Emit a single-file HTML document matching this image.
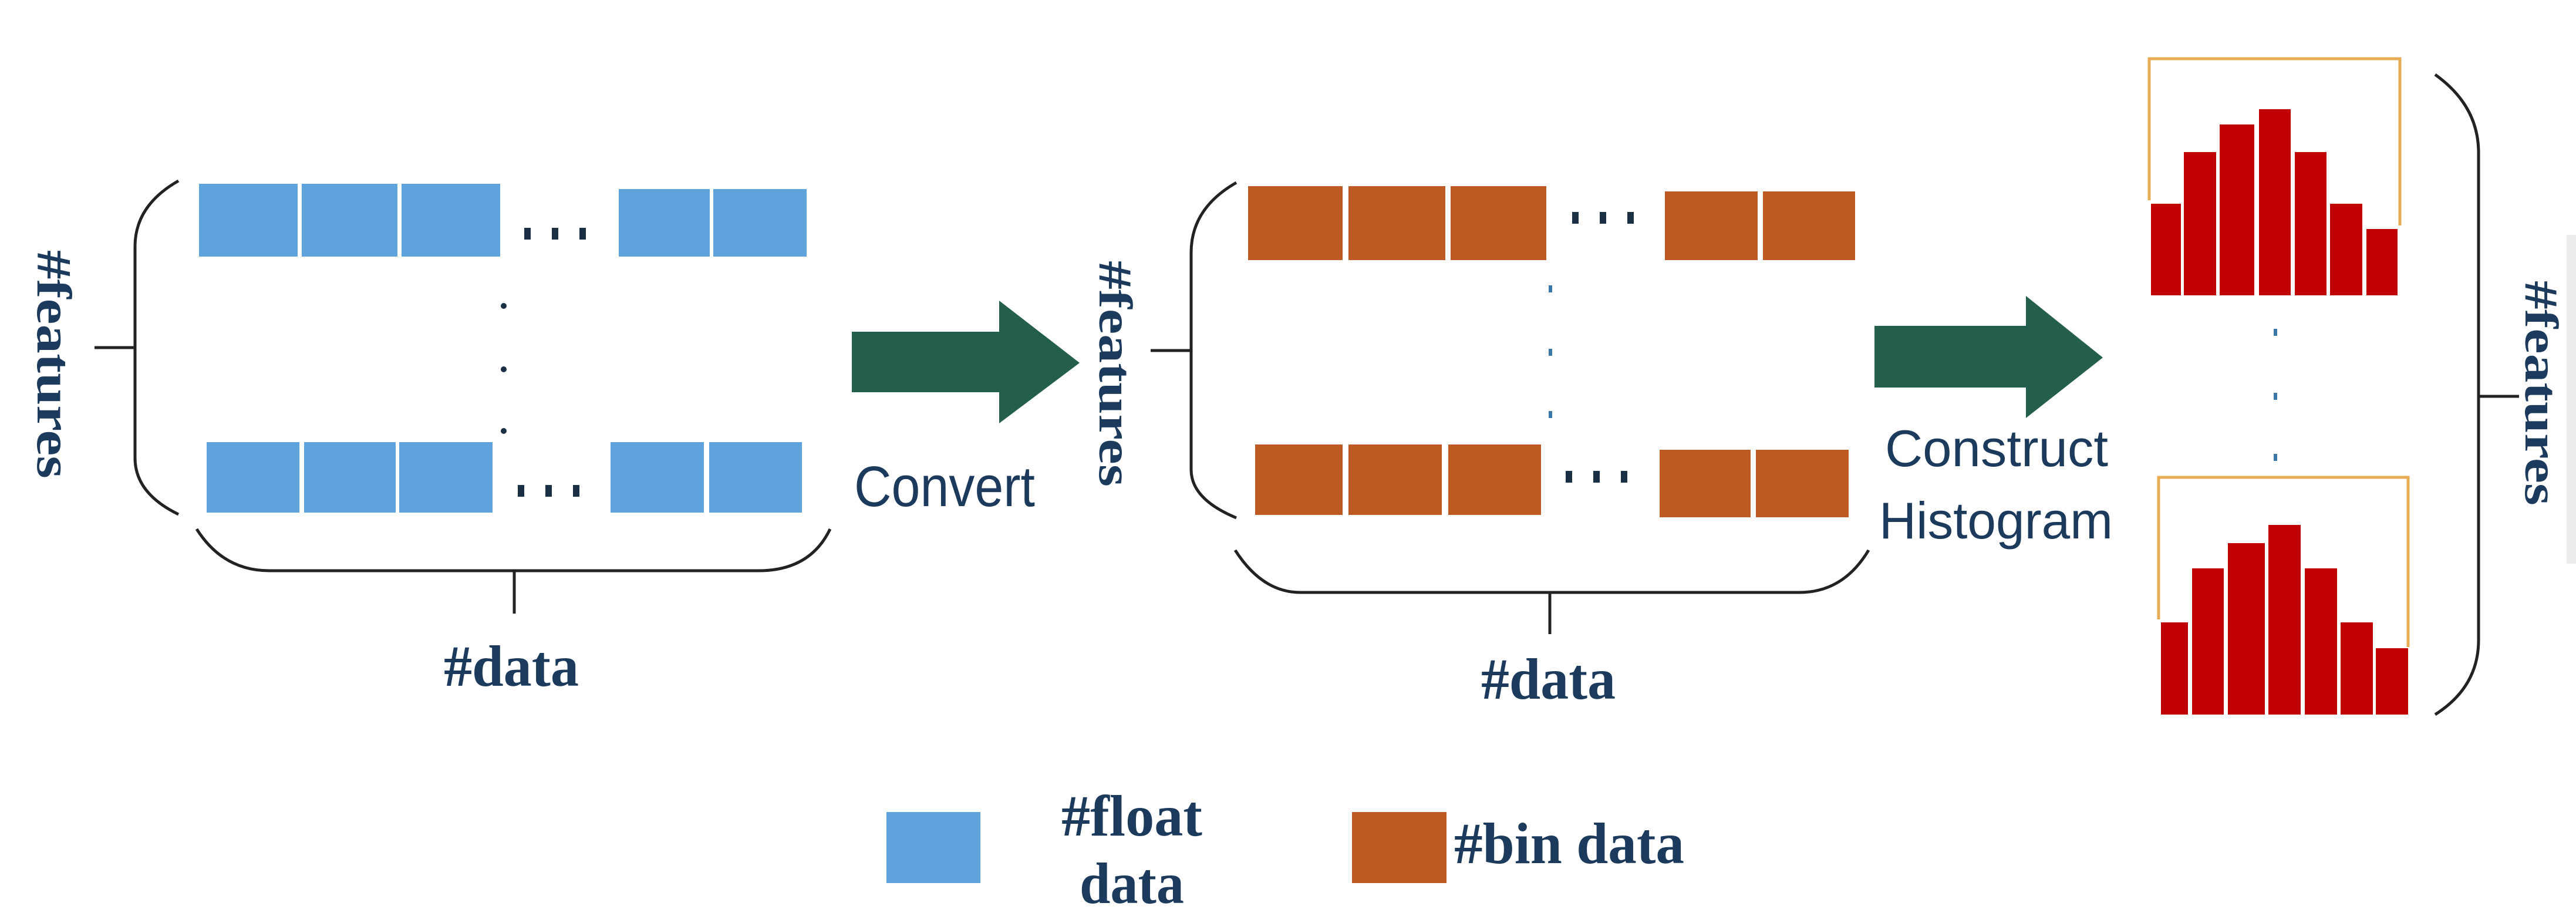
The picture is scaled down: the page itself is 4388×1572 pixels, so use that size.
<!DOCTYPE html>
<html><head><meta charset="utf-8"><style>
html,body{margin:0;padding:0;background:#fff;}
svg{display:block;}
.s{font-family:"Liberation Serif",serif;font-weight:bold;fill:#1b3a5c;}
.n{font-family:"Liberation Sans",sans-serif;fill:#1b3a5c;}
</style></head><body>
<svg width="4388" height="1572" viewBox="0 0 4388 1572" xmlns="http://www.w3.org/2000/svg">
<rect width="4388" height="1572" fill="#fff"/>
<g fill="#5fa3dc">
<rect x="339" y="313" width="168" height="124"/><rect x="514" y="313" width="163" height="124"/><rect x="684" y="313" width="168" height="124"/>
<rect x="1054" y="322" width="155" height="115"/><rect x="1215" y="322" width="159" height="115"/>
<rect x="352" y="753" width="158" height="120"/><rect x="518" y="753" width="156" height="120"/><rect x="680" y="753" width="159" height="120"/>
<rect x="1040" y="753" width="159" height="120"/><rect x="1208" y="753" width="158" height="120"/>
</g>
<g fill="#1b2f45">
<rect x="893" y="388" width="11" height="20"/><rect x="940" y="388" width="11" height="20"/><rect x="987" y="388" width="11" height="20"/>
<rect x="882" y="826" width="11" height="20"/><rect x="929" y="826" width="11" height="20"/><rect x="976" y="826" width="11" height="20"/>
<circle cx="858" cy="521" r="5"/><circle cx="858" cy="629" r="5"/><circle cx="858" cy="734" r="5"/>
</g>
<g fill="none" stroke="#222" stroke-width="5">
<path d="M304 308 Q230 350 230 420 L230 780 Q230 840 304 876"/>
<path d="M161 592 L230 592"/>
<path d="M335 901 Q380 972 459 972 L1292 972 Q1380 972 1414 901"/>
<path d="M876 972 L876 1045"/>
</g>
<text class="s" font-size="84" transform="translate(64,426) rotate(90)" textLength="389" lengthAdjust="spacingAndGlyphs">#features</text>
<text class="s" x="756" y="1168" font-size="100" textLength="230" lengthAdjust="spacingAndGlyphs">#data</text>
<path d="M1451 565 L1702 565 L1702 512 L1839 618 L1702 721 L1702 668 L1451 668 Z" fill="#245e4c"/>
<text class="n" x="1455" y="862" font-size="97" textLength="308" lengthAdjust="spacingAndGlyphs">Convert</text>
<g fill="#bd5a24">
<rect x="2126" y="317" width="161" height="126"/><rect x="2297" y="317" width="165" height="126"/><rect x="2471" y="317" width="163" height="126"/>
<rect x="2836" y="326" width="158" height="117"/><rect x="3003" y="326" width="157" height="117"/>
<rect x="2138" y="757" width="149" height="120"/><rect x="2297" y="757" width="159" height="120"/><rect x="2467" y="757" width="158" height="120"/>
<rect x="2827" y="766" width="155" height="115"/><rect x="2991" y="766" width="158" height="115"/>
</g>
<g fill="#1b2f45">
<rect x="2678" y="361" width="11" height="20"/><rect x="2725" y="361" width="11" height="20"/><rect x="2772" y="361" width="11" height="20"/>
<rect x="2667" y="802" width="11" height="20"/><rect x="2714" y="802" width="11" height="20"/><rect x="2761" y="802" width="11" height="20"/>
</g>
<g fill="#3b78a8">
<rect x="2638" y="486" width="6" height="12"/><rect x="2638" y="594" width="6" height="12"/><rect x="2638" y="700" width="6" height="12"/>
</g>
<g fill="none" stroke="#222" stroke-width="5">
<path d="M2106 311 Q2029 355 2029 430 L2029 800 Q2029 850 2106 882"/>
<path d="M1960 597 L2029 597"/>
<path d="M2104 937 Q2150 1009 2215 1009 L3065 1009 Q3140 1009 3183 937"/>
<path d="M2640 1009 L2640 1080"/>
</g>
<text class="s" font-size="80" transform="translate(1873,444) rotate(90)" textLength="385" lengthAdjust="spacingAndGlyphs">#features</text>
<text class="s" x="2523" y="1190" font-size="100" textLength="229" lengthAdjust="spacingAndGlyphs">#data</text>
<path d="M3193 555 L3451 555 L3451 504 L3582 609 L3451 712 L3451 660 L3193 660 Z" fill="#245e4c"/>
<text class="n" x="3211" y="794" font-size="88" textLength="380" lengthAdjust="spacingAndGlyphs">Construct</text>
<text class="n" x="3201" y="917" font-size="88" textLength="398" lengthAdjust="spacingAndGlyphs">Histogram</text>
<g fill="none" stroke="#e8ac55" stroke-width="5">
<path d="M3661 341 L3661 100 L4088 100 L4088 384"/>
<path d="M3677 1055 L3677 813 L4102 813 L4102 1102"/>
</g>
<g fill="#c00000">
<rect x="3664" y="347" width="51" height="156"/><rect x="3720" y="259" width="55" height="244"/><rect x="3781" y="212" width="59" height="291"/>
<rect x="3848" y="186" width="54" height="317"/><rect x="3909" y="259" width="54" height="244"/><rect x="3969" y="347" width="55" height="156"/><rect x="4031" y="390" width="53" height="113"/>
<rect x="3681" y="1060" width="46" height="157"/><rect x="3734" y="968" width="54" height="249"/><rect x="3795" y="925" width="63" height="292"/>
<rect x="3864" y="894" width="55" height="323"/><rect x="3926" y="968" width="55" height="249"/><rect x="3987" y="1060" width="55" height="157"/><rect x="4047" y="1104" width="55" height="113"/>
</g>
<g fill="#3b78a8">
<rect x="3873" y="560" width="6" height="12"/><rect x="3873" y="669" width="6" height="12"/><rect x="3873" y="773" width="6" height="12"/>
</g>
<g fill="none" stroke="#222" stroke-width="5">
<path d="M4148 127 Q4222 180 4222 260 L4222 1090 Q4222 1170 4148 1217"/>
<path d="M4222 675 L4291 675"/>
</g>
<text class="s" font-size="80" transform="translate(4302,478) rotate(90)" textLength="383" lengthAdjust="spacingAndGlyphs">#features</text>
<rect x="4372" y="400" width="16" height="560" fill="#d8dce0" opacity="0.5"/>
<rect x="1510" y="1383" width="160" height="121" fill="#5fa3dc"/>
<rect x="2303" y="1383" width="161" height="121" fill="#bd5a24"/>
<text class="s" x="1808" y="1423" font-size="100" textLength="240" lengthAdjust="spacingAndGlyphs">#float</text>
<text class="s" x="1839" y="1538" font-size="100" textLength="178" lengthAdjust="spacingAndGlyphs">data</text>
<text class="s" x="2477" y="1470" font-size="100" textLength="392" lengthAdjust="spacingAndGlyphs">#bin data</text>
</svg>
</body></html>
